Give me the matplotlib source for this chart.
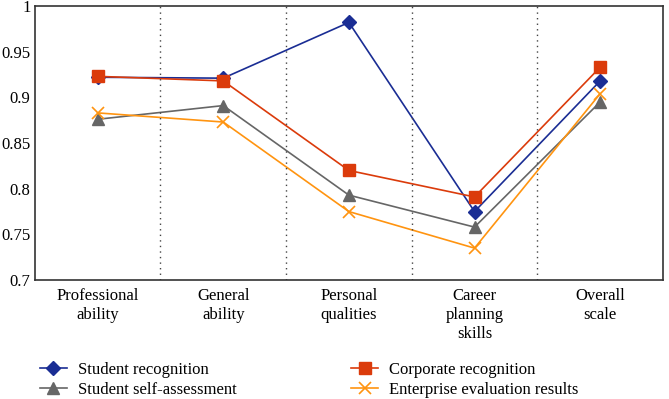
import matplotlib.pyplot as plt
import numpy as np

plt.rcParams['font.family'] = ['Liberation Serif', 'DejaVu Serif']

categories = ['Professional\nability', 'General\nability', 'Personal\nqualities',
              'Career\nplanning\nskills', 'Overall\nscale']
student_recognition = [0.922, 0.921, 0.982, 0.775, 0.918]
corporate_recognition = [0.923, 0.918, 0.820, 0.791, 0.933]
student_self = [0.876, 0.891, 0.793, 0.758, 0.895]
enterprise_eval = [0.883, 0.873, 0.775, 0.735, 0.904]

fig = plt.figure(figsize=(6.69, 3.99), dpi=100)
ax = fig.add_axes([0.052, 0.298, 0.939, 0.687])

x = np.arange(len(categories))
l1, = ax.plot(x, student_recognition, color='#1a2d94', marker='D', ms=7.5, lw=1.2,
              label='Student recognition')
l2, = ax.plot(x, student_self, color='#666666', marker='^', ms=9, lw=1.2,
              label='Student self-assessment')
l3, = ax.plot(x, corporate_recognition, color='#db3b0b', marker='s', ms=9, lw=1.2,
              label='Corporate recognition')
l4, = ax.plot(x, enterprise_eval, color='#ff9410', marker='x', ms=9, mew=1.2, lw=1.2,
              label='Enterprise evaluation results')

for b in np.arange(0.5, len(categories) - 1, 1):
    ax.axvline(b, color='#444444', ls=(0, (1, 3)), lw=1)

ax.set_xlim(-0.5, len(categories) - 0.5)
ax.set_ylim(0.7, 1.0)
ax.set_yticks([0.7, 0.75, 0.8, 0.85, 0.9, 0.95, 1.0])
ax.set_yticklabels(['0.7', '0.75', '0.8', '0.85', '0.9', '0.95', '1'])
ax.set_xticks(x)
ax.set_xticklabels(categories, va='top', linespacing=1.25)
ax.tick_params(length=0, labelsize=12)
ax.tick_params(axis='x', pad=6)
ax.tick_params(axis='y', pad=3)
for s in ax.spines.values():
    s.set_color('#333333')
    s.set_linewidth(1.2)

fig.legend(handles=[l1, l2, l3, l4], loc='upper left', bbox_to_anchor=(0.05, 0.11),
           ncol=2, frameon=False, fontsize=12, columnspacing=6.9,
           handlelength=1.6, handletextpad=0.65, labelspacing=0.27, borderaxespad=0)

fig.savefig('out.png', dpi=100)
